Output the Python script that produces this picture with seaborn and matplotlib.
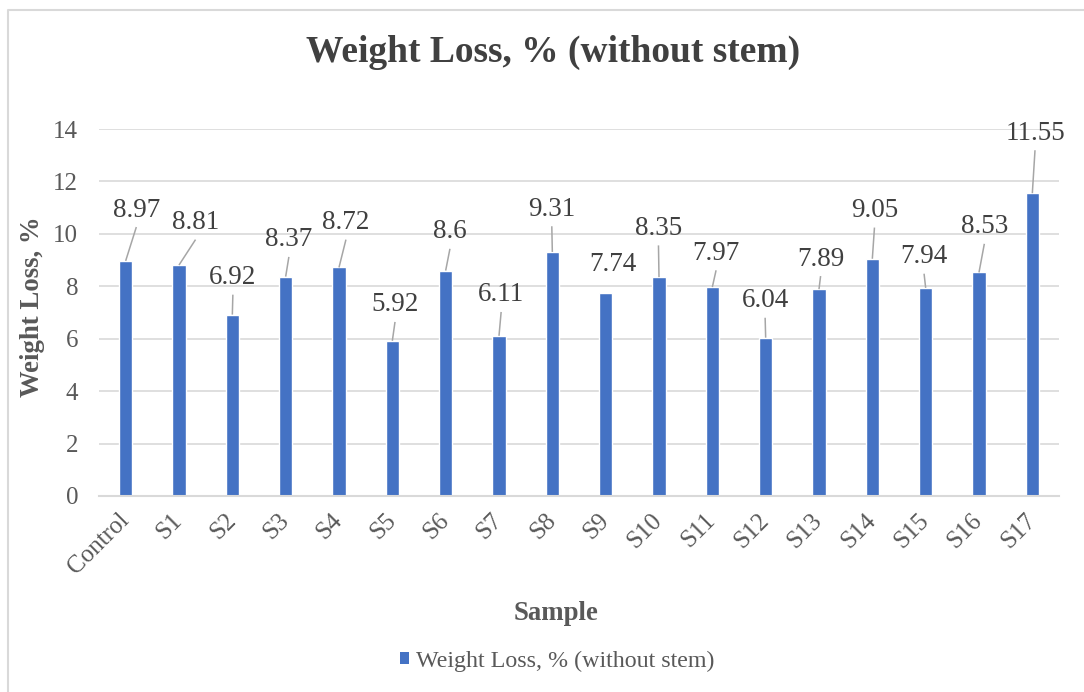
import matplotlib
matplotlib.use("Agg")
import matplotlib.pyplot as plt
from matplotlib.patches import Rectangle
from matplotlib.lines import Line2D
import seaborn as sns
import pandas as pd

# Samples and measured weight loss (%), without stem
samples = ["Control", "S1", "S2", "S3", "S4", "S5", "S6", "S7", "S8",
           "S9", "S10", "S11", "S12", "S13", "S14", "S15", "S16", "S17"]
weight_loss = [8.97, 8.81, 6.92, 8.37, 8.72, 5.92, 8.6, 6.11, 9.31,
               7.74, 8.35, 7.97, 6.04, 7.89, 9.05, 7.94, 8.53, 11.55]
y_ticks = [0, 2, 4, 6, 8, 10, 12, 14]

# Placement of each value label relative to its bar top
# (horizontal shift in category widths, vertical shift in % units)
label_dx = [0.20, 0.31, 0.01, 0.06, 0.13, 0.05, 0.08, 0.04, -0.01,
            0.13, -0.01, 0.07, -0.01, 0.03, 0.04, -0.03, 0.10, 0.05]
label_dy = [1.94, 1.62, 1.41, 1.40, 1.71, 1.37, 1.48, 1.56, 1.63,
            1.10, 1.86, 1.29, 1.41, 1.15, 1.84, 1.19, 1.74, 2.29]
leader = [True] * 18
leader[9] = False

BAR = "#4472C4"
GRID = "#D9D9D9"
TXT = "#595959"
DARK = "#404040"

sns.set_theme(style="white")
plt.rcParams["font.family"] = ["Liberation Serif", "DejaVu Serif"]

fig = plt.figure(figsize=(10.84, 6.92), dpi=100)
ax = fig.add_axes([99 / 1084, 1 - 496 / 692, 960 / 1084, 367 / 692])

df = pd.DataFrame({"Sample": samples, "Weight Loss": weight_loss})
sns.barplot(data=df, x="Sample", y="Weight Loss", color=BAR, width=0.25,
            saturation=1, ax=ax, zorder=3)

ax.set_xlim(-0.5, len(samples) - 0.5)
ax.set_ylim(0, 14)
ax.set_yticks(y_ticks)
ax.yaxis.grid(True, color=GRID, lw=1.2)
ax.set_axisbelow(True)
for side in ["left", "right", "top"]:
    ax.spines[side].set_visible(False)
ax.spines["bottom"].set_color(GRID)
ax.spines["bottom"].set_linewidth(1.5)
ax.spines["bottom"].set_zorder(4)
ax.set_xlabel("")
ax.set_ylabel("")
ax.tick_params(axis="y", length=0, pad=15, labelsize=18, labelcolor=TXT)
ax.tick_params(axis="x", length=0, pad=15, labelsize=18, labelcolor=TXT)
for lab in ax.get_xticklabels():
    lab.set_rotation(45)
    lab.set_ha("right")
    lab.set_va("center")
    lab.set_rotation_mode("anchor")

# Value labels with leader lines back to the bar tops
for i, v in enumerate(weight_loss):
    lx, ly = i + label_dx[i], v + label_dy[i]
    if leader[i]:
        ax.plot([i, lx], [v, ly - 0.65], color="#A6A6A6", lw=1.1,
                zorder=4, solid_capstyle="butt")
    ax.text(lx, ly, f"{v:g}", ha="center", va="center", fontsize=19.5,
            color=DARK, zorder=5)

fig.text(553 / 1084, 1 - 52 / 692, "Weight Loss, % (without stem)",
         ha="center", va="center", fontsize=27, fontweight="bold", color=DARK)
fig.text(33 / 1084, 1 - 307 / 692, "Weight Loss, %", rotation=90,
         ha="center", va="center", fontsize=19.3, fontweight="bold", color=TXT)
fig.text(556 / 1084, 1 - 614 / 692, "Sample", ha="center", va="center",
         fontsize=19.3, fontweight="bold", color=TXT)

handle = Rectangle((0, 0), 1, 1, facecolor=BAR, edgecolor="none")
leg = fig.legend([handle], ["Weight Loss, % (without stem)"], loc="center",
                 bbox_to_anchor=(557 / 1084, 1 - 661 / 692), frameon=False,
                 fontsize=17.3, handlelength=0.36, handleheight=0.36,
                 handletextpad=0.3, borderaxespad=0)
for t in leg.get_texts():
    t.set_color(TXT)

# Chart-area outline (left and top edges visible)
fig.add_artist(Line2D([7.5 / 1084, 7.5 / 1084, 1.0], [0.0, 1 - 10 / 692, 1 - 10 / 692],
                      transform=fig.transFigure, color=GRID, lw=1.5))

fig.savefig("out.png", dpi=100, facecolor="white")
